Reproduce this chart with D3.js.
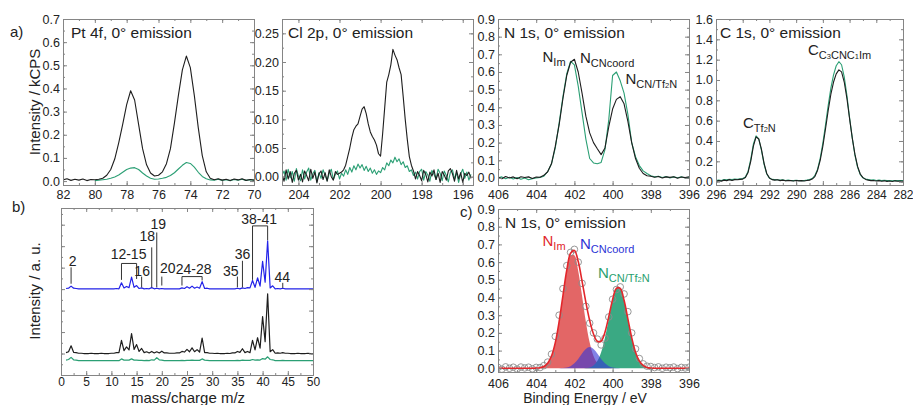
<!DOCTYPE html>
<html>
<head>
<meta charset="utf-8">
<script src="https://cdn.jsdelivr.net/npm/d3@7"></script>
<style>
body { margin: 0; background: #fff; }
svg { display: block; }
svg text { font-family: "Liberation Sans", Arial, sans-serif; }
</style>
</head>
<body>
<svg width="913" height="405"></svg>
<script>
"use strict";

// ---- a) Pt 4f (82 -> 70 eV, 0.25 eV steps) ----
const ptBlackStart = 82, ptGreenStart = 80, ptStep = 0.25;
const ptBlack = [0.005,0.010,0.003,0.008,0.004,0.009,0.002,0.007,0.006,
  0.008,0.012,0.025,0.050,0.095,0.165,0.245,0.330,
  0.390,0.350,0.245,0.140,0.070,0.035,0.022,0.025,
  0.040,0.075,0.140,0.250,0.370,0.480,0.540,0.490,
  0.370,0.230,0.110,0.040,0.012,0.006,0.010,0.004,
  0.008,0.002,0.009,0.005,0.010,0.003,0.007,0.004];
const ptGreen = [0.002,0.004,0.006,0.008,0.012,0.018,0.026,0.038,0.050,
  0.056,0.058,0.050,0.035,0.022,0.012,0.008,0.009,
  0.012,0.016,0.024,0.036,0.052,0.068,0.080,0.076,
  0.060,0.038,0.020,0.010,0.005,0.004,0.008,0.003,
  0.006,0.002,0.007,0.004,0.008,0.003,0.006,0.004];

// ---- a) Cl 2p (204.8 -> 195.6 eV, 0.1 eV steps) ----
const clStart = 204.8, clStep = 0.1;
const clBlack = [0.005,-0.008,0.012,-0.004,0.009,-0.010,0.006,0.011,-0.006,0.004,
  -0.009,0.010,0.002,-0.007,0.013,-0.003,0.008,-0.011,0.005,0.010,
  -0.005,0.007,-0.008,0.012,0.000,-0.006,0.009,0.004,0.006,
  0.008,0.012,0.020,0.035,0.050,0.068,0.082,0.088,0.092,0.105,
  0.118,0.122,0.110,0.092,0.078,0.070,0.064,0.055,0.040,0.036,
  0.075,0.120,0.165,0.178,0.195,0.222,0.212,0.204,0.190,0.178,
  0.140,0.100,0.065,0.035,0.020,0.010,-0.004,0.009,0.002,-0.007,
  0.011,0.004,-0.009,0.008,0.001,0.012,-0.005,0.006,-0.010,0.009,
  0.003,-0.006,0.010,0.014,0.005,-0.008,0.011,-0.004,0.007,-0.010,
  0.006,0.002,0.008,-0.003];
const clGreen = [0.002,0.010,-0.006,0.013,-0.002,0.009,-0.008,0.014,0.001,-0.007,
  0.012,-0.004,0.008,0.015,-0.006,0.005,0.011,-0.009,0.007,-0.003,
  0.012,0.002,-0.007,0.006,0.013,-0.005,0.004,0.010,-0.004,
  0.006,0.001,0.012,0.004,0.016,0.008,0.019,0.012,0.022,0.015,
  0.021,0.011,0.018,0.009,0.015,0.006,0.012,0.004,0.010,0.007,
  0.016,0.012,0.024,0.019,0.029,0.024,0.034,0.026,0.031,0.021,
  0.026,0.016,0.019,0.009,0.012,0.002,0.008,-0.004,0.009,0.013,
  -0.006,0.009,0.003,-0.008,0.011,0.004,-0.005,0.013,0.006,-0.007,
  0.010,0.002,-0.009,0.008,0.012,-0.004,0.007,-0.010,0.005,0.013,
  -0.003,0.008,-0.006,0.004];

// ---- a) / c) N 1s (406 -> 396 eV, 0.2 eV steps) ----
const nStart = 406, nStep = 0.2;
const nBlack = [0.005,-0.005,0.008,0.000,0.006,-0.004,0.007,0.002,0.006,-0.003,0.005,0.004,
  0.015,0.035,0.080,0.180,0.300,0.450,0.580,0.655,0.672,0.600,
  0.480,0.350,0.255,0.200,0.165,0.132,0.170,0.290,0.390,0.445,
  0.460,0.420,0.320,0.200,0.110,0.055,0.025,0.012,0.010,
  0.004,0.008,0.000,0.006,0.003,0.007,-0.002,0.005,0.002,0.006];
const nGreen = [0.000,0.006,-0.004,0.004,-0.006,0.002,-0.008,0.000,-0.010,-0.004,0.000,0.003,
  0.010,0.035,0.080,0.170,0.310,0.460,0.590,0.660,0.640,0.520,
  0.370,0.220,0.110,0.085,0.080,0.088,0.160,0.330,0.580,0.600,
  0.550,0.480,0.360,0.200,0.120,0.070,0.040,0.025,0.012,
  0.006,0.010,0.002,0.008,0.000,0.006,0.001,0.007,0.000,0.004];
// c) fit components on the same grid
const fitIm = [0,0,0,0,0,0,0,0,0,0,
  0.001,0.003,0.010,0.029,0.069,0.145,0.263,0.410,0.550,0.638,
  0.638,0.550,0.410,0.263,0.145,0.069,0.029,0.010,0.003,0.001,
  0,0,0,0,0,0,0,0,0,0,0,0,0,0,0,0,0,0,0,0,0];
const fitCoord = [0,0,0,0,0,0,0,0,0,0,0,0,0,0,0,0,0,
  0.001,0.004,0.012,0.028,0.053,0.083,0.109,0.120,0.109,0.083,0.053,0.028,0.012,0.004,0.001,
  0,0,0,0,0,0,0,0,0,0,0,0,0,0,0,0,0,0,0];
const fitCN = [0,0,0,0,0,0,0,0,0,0,0,0,0,0,0,0,0,0,0,0,0,0,0,
  0.001,0.005,0.016,0.041,0.091,0.173,0.279,0.384,0.451,0.451,0.384,0.279,0.173,0.091,0.041,0.016,0.005,0.001,
  0,0,0,0,0,0,0,0,0,0];

// ---- a) C 1s (296 -> 282 eV, 0.2 eV steps) ----
const cStart = 296, cStep = 0.2;
const cBlack = [0.000,0.010,0.005,0.015,0.010,0.020,0.012,0.020,0.018,0.022,0.025,
  0.040,0.090,0.200,0.350,0.440,0.420,0.320,0.180,0.080,0.035,
  0.020,0.015,0.018,0.010,0.015,0.008,0.012,0.010,0.006,0.012,
  0.008,0.010,0.006,0.012,0.015,0.025,0.050,0.110,0.210,0.350,
  0.520,0.700,0.860,0.980,1.060,1.100,1.080,0.980,0.820,0.620,
  0.430,0.270,0.150,0.075,0.040,0.022,0.015,0.010,0.012,0.006,
  0.010,0.004,0.008,0.003,0.007,0.002,0.008,0.004,0.006,0.003];
const cGreen = [0.010,0.015,0.012,0.020,0.018,0.022,0.020,0.025,0.022,0.028,0.030,
  0.045,0.100,0.220,0.370,0.450,0.420,0.310,0.170,0.075,0.035,
  0.022,0.020,0.018,0.015,0.018,0.012,0.015,0.012,0.010,0.014,
  0.012,0.010,0.012,0.015,0.020,0.030,0.060,0.120,0.230,0.380,
  0.560,0.750,0.920,1.050,1.140,1.180,1.150,1.030,0.850,0.630,
  0.430,0.260,0.140,0.070,0.038,0.025,0.020,0.015,0.018,0.012,
  0.015,0.010,0.014,0.010,0.012,0.008,0.012,0.010,0.012,0.010];

// ---- b) mass spectra: heights at m/z 1..50 and valleys at 1.5..49.5 ----
const mzStart = 1;
const blueMS = [0.1,0.9,0.1,0,0,0,0,0,0,0, 0.1,2.0,0.8,3.9,1.1,0.3,0.1,0.4,0.2,0.1,
  0,0,0,0.3,0.7,0.9,0.6,2.4,0.2,0, 0,0,0,0,0.2,0.3,0.4,2.8,3.7,9.2, 16.1,1.0,0.1,0.2,0,0,0,0,0,0];
const blueVal = [0.2,0.2,0,0,0,0,0,0,0,0, 0,0.3,0.4,0.5,0.1,0,0,0,0,0,
  0,0,0,0.1,0.2,0.2,0.2,0.1,0,0, 0,0,0,0,0,0.1,0.3,0.5,0.9,2.2, 0.3,0,0,0,0,0,0,0,0];
const blackMS = [0.3,2.6,0.3,0.1,0,0.1,0,0.1,0,0.1, 0.3,4.4,2.2,6.7,3.0,1.7,0.6,0.7,0.6,0.8,
  0.2,0.1,0.2,0.7,1.4,1.9,1.3,5.2,0.3,0.1, 0.1,0,0.1,0.2,0.7,1.6,0.7,4.4,5.3,12.4, 20.0,1.3,0.2,0.3,0.1,0,0.1,0,0.1,0];
const blackVal = [0.6,0.4,0.1,0,0,0,0,0,0,0.1, 0.3,1.0,1.2,1.4,0.7,0.3,0.2,0.2,0.2,0.2,
  0.1,0.1,0.2,0.5,0.6,0.6,0.5,0.3,0.1,0, 0,0,0,0.2,0.4,0.3,0.3,1.2,1.8,4.0, 0.6,0.1,0.1,0.1,0,0,0,0,0];
const greenMS = [0.2,1.1,0.2,0,0,0,0,0,0,0, 0,0.6,0.2,0.6,0.2,0.1,0.1,0.3,1.0,0.2,
  0,0,0,0.1,0.1,0.2,0.1,0.6,0.1,0, 0,0,0,0,0.1,0.2,0.1,0.4,0.3,0.7, 1.3,0.3,0,0.1,0,0,0,0,0,0];
const greenVal = [0.4,0.3,0,0,0,0,0,0,0,0, 0,0.2,0.2,0.2,0.1,0,0,0.2,0.3,0,
  0,0,0,0,0.1,0.1,0.1,0.2,0,0, 0,0,0,0,0,0.1,0.1,0.2,0.2,0.5, 0.4,0,0,0,0,0,0,0,0];
const msOffsets = {blue: 28.9, black: 7.2, green: 4.8};

// fragment annotations in b): [label, text m/z, text y, line m/z, line top, line bottom]
const msSingle = [
  ["2", 2.3, 36.7, 2, 36.1, 30.6],
  ["16", 16.1, 33.3, 16, 33.0, 29.4],
  ["18", 17.1, 44.8, 18, 42.8, 29.4],
  ["19", 19.3, 49.0, 19, 47.8, 29.4],
  ["20", 21.2, 34.1, 20, 33.0, 30.0],
  ["35", 33.7, 33.3, 35, 33.0, 29.4],
  ["36", 36.0, 38.9, 36, 38.3, 29.4],
  ["44", 43.9, 31.1, 44, 30.9, 29.2]
];
// brackets: [label, text m/z, text y, from m/z, to m/z, bar y, left leg end, right leg end]
const msBrackets = [
  ["12-15", 13.4, 39.0, 12, 15, 37.4, 31.9, 32.2],
  ["24-28", 26.3, 33.9, 24, 28, 33.0, 30.0, 31.7],
  ["38-41", 39.3, 50.6, 38, 41, 50.0, 31.9, 45.2]
];

const svg = d3.select("svg");
const frameCol = "#858585", inkCol = "#222";
const blackCol = "#1e1e1e", greenCol = "#2b9f74", blueCol = "#2323e8";

function grid(start, step, vals) {
  return vals.map((v, i) => [start - step * i, v]);
}

function makePanel(id, x0, x1, y0, y1, xDom, yDom) {
  const x = d3.scaleLinear().domain(xDom).range([x0, x1]);
  const y = d3.scaleLinear().domain(yDom).range([y1, y0]);
  const g = svg.append("g");
  svg.append("clipPath").attr("id", id).append("rect")
    .attr("x", x0).attr("y", y0).attr("width", x1 - x0).attr("height", y1 - y0);
  const plot = g.append("g").attr("clip-path", "url(#" + id + ")");
  return {x, y, g, plot, x0, x1, y0, y1};
}

function addAxis(p, gen, tx, ty, scale, vals, size, fmt, pad, fs) {
  const a = p.g.append("g")
    .attr("transform", "translate(" + tx + "," + ty + ")")
    .call(gen(scale).tickValues(vals).tickSizeInner(size).tickSizeOuter(0)
      .tickPadding(pad || 3).tickFormat(fmt || (() => "")));
  a.attr("font-size", null).attr("font-family", null);
  a.select(".domain").remove();
  a.selectAll(".tick line").attr("stroke", frameCol);
  a.selectAll(".tick text").attr("fill", inkCol).style("font-size", (fs || 12.5) + "px");
}

function drawAxes(p, o) {
  addAxis(p, d3.axisBottom, 0, p.y1, p.x, o.xMinor, -2);
  addAxis(p, d3.axisTop, 0, p.y0, p.x, o.xMinor, -2);
  addAxis(p, d3.axisBottom, 0, p.y1, p.x, o.xMajor, -4, o.xFmt, o.xPad, o.xFs);
  addAxis(p, d3.axisTop, 0, p.y0, p.x, o.xMajor, -4);
  addAxis(p, d3.axisLeft, p.x0, 0, p.y, o.yMinor, -2);
  addAxis(p, d3.axisRight, p.x1, 0, p.y, o.yMinor, -2);
  addAxis(p, d3.axisLeft, p.x0, 0, p.y, o.yMajor, -4, o.yFmt, 3);
  addAxis(p, d3.axisRight, p.x1, 0, p.y, o.yMajor, -4);
  p.g.append("rect")
    .attr("x", p.x0 + 0.5).attr("y", p.y0 + 0.5)
    .attr("width", p.x1 - p.x0).attr("height", p.y1 - p.y0)
    .attr("fill", "none").attr("stroke", frameCol);
}

function trace(p, pts, color, width) {
  p.plot.append("path")
    .attr("d", d3.line().x(d => p.x(d[0])).y(d => p.y(d[1]))(pts))
    .attr("fill", "none").attr("stroke", color)
    .attr("stroke-width", width || 1.1).attr("stroke-linejoin", "round");
}

function text(x, y, s, size, color, anchor) {
  return svg.append("text").attr("x", x).attr("y", y)
    .attr("fill", color || inkCol).attr("text-anchor", anchor || "start")
    .style("font-size", (size || 15.5) + "px").text(s);
}

// parts: [string, font size, baseline offset]
function chemLabel(x, y, parts, color) {
  const t = svg.append("text").attr("x", x).attr("y", y)
    .attr("fill", color || inkCol).style("font-size", "15px");
  let prev = 0;
  parts.forEach(pt => {
    t.append("tspan").attr("dy", pt[2] - prev).style("font-size", pt[1] + "px").text(pt[0]);
    prev = pt[2];
  });
}

const f1 = d3.format(".1f"), f2 = d3.format(".2f");
const tenths = n => d3.range(0, n + 1).map(i => i / 10);

// ---------- a1 Pt 4f ----------
const a1 = makePanel("c-a1", 63, 254, 19, 185, [82, 70], [-0.017, 0.7]);
trace(a1, grid(ptGreenStart, ptStep, ptGreen), greenCol);
trace(a1, grid(ptBlackStart, ptStep, ptBlack), blackCol);
drawAxes(a1, {xMajor: d3.range(70, 83, 2), xMinor: d3.range(70, 83, 1), xFmt: d3.format("d"), xPad: 5,
  yMajor: tenths(7), yMinor: d3.range(0, 15).map(i => i * 0.05), yFmt: f1});

// ---------- a2 Cl 2p ----------
const a2 = makePanel("c-a2", 282, 473, 19, 185, [204.8, 195.5], [-0.0145, 0.275]);
trace(a2, grid(clStart, clStep, clGreen), greenCol);
trace(a2, grid(clStart, clStep, clBlack), blackCol);
drawAxes(a2, {xMajor: d3.range(196, 205, 2), xMinor: d3.range(196, 205, 1), xFmt: d3.format("d"), xPad: 5,
  yMajor: d3.range(0, 6).map(i => i * 0.05), yMinor: d3.range(0, 11).map(i => i * 0.025), yFmt: f2});

// ---------- a3 N 1s ----------
const a3 = makePanel("c-a3", 498, 689, 19, 185, [406, 396], [-0.04, 0.9]);
trace(a3, grid(nStart, nStep, nGreen), greenCol);
trace(a3, grid(nStart, nStep, nBlack), blackCol);
drawAxes(a3, {xMajor: d3.range(396, 407, 2), xMinor: d3.range(396, 407, 1), xFmt: d3.format("d"), xPad: 5,
  yMajor: tenths(9), yMinor: d3.range(0, 19).map(i => i * 0.05), yFmt: f1});

// ---------- a4 C 1s ----------
const a4 = makePanel("c-a4", 716, 903, 19, 185, [296, 282], [-0.033, 1.6]);
trace(a4, grid(cStart, cStep, cGreen), greenCol);
trace(a4, grid(cStart, cStep, cBlack), blackCol);
drawAxes(a4, {xMajor: d3.range(282, 297, 2), xMinor: d3.range(282, 297, 1), xFmt: d3.format("d"), xPad: 5, xFs: 12,
  yMajor: d3.range(0, 9).map(i => i * 0.2), yMinor: d3.range(0, 17).map(i => i * 0.1), yFmt: f1});

// ---------- b) mass spectra ----------
const b = makePanel("c-b", 61, 313, 208, 375, [0, 50], [0, 56]);
function msTrace(peaks, valleys, off) {
  const pts = [];
  peaks.forEach((h, k) => {
    pts.push([mzStart + k, off + h]);
    if (k < valleys.length) pts.push([mzStart + k + 0.5, off + valleys[k]]);
  });
  return pts;
}
trace(b, msTrace(greenMS, greenVal, msOffsets.green), greenCol, 1.2);
trace(b, msTrace(blackMS, blackVal, msOffsets.black), blackCol, 1.2);
trace(b, msTrace(blueMS, blueVal, msOffsets.blue), blueCol, 1.2);
drawAxes(b, {xMajor: d3.range(0, 51, 5), xMinor: d3.range(0, 51, 2.5), xFmt: d3.format("d"), xPad: 2, xFs: 12,
  yMajor: d3.range(0, 56, 7.2), yMinor: d3.range(0, 56, 3.6), yFmt: null});
const ann = svg.append("g").attr("stroke", "#333").attr("stroke-width", 1).attr("fill", "none");
msSingle.forEach(d => {
  ann.append("line").attr("x1", b.x(d[3])).attr("x2", b.x(d[3]))
    .attr("y1", b.y(d[4])).attr("y2", b.y(d[5]));
  text(b.x(d[1]), b.y(d[2]), d[0], 14, inkCol, "middle");
});
msBrackets.forEach(d => {
  ann.append("path").attr("d",
    "M" + b.x(d[3]) + "," + b.y(d[6]) + "V" + b.y(d[5]) +
    "H" + b.x(d[4]) + "V" + b.y(d[7]));
  text(b.x(d[1]), b.y(d[2]), d[0], 14, inkCol, "middle");
});

// ---------- c) N 1s fit ----------
const c = makePanel("c-c", 498, 689, 209, 372, [406, 396], [-0.021, 0.9]);
const comps = [[fitIm, "#e36666", 1], [fitCN, "#3aa983", 1], [fitCoord, "#3636d6", 0.62]];
const area = d3.area().curve(d3.curveCatmullRom)
  .x(d => c.x(d[0])).y0(c.y(0)).y1(d => c.y(d[1]));
comps.forEach(cp => {
  c.plot.append("path").attr("d", area(grid(nStart, nStep, cp[0])))
    .attr("fill", cp[1]).attr("fill-opacity", cp[2]);
});
c.plot.selectAll("circle").data(grid(nStart, nStep, nBlack)).join("circle")
  .attr("cx", d => c.x(d[0])).attr("cy", d => c.y(d[1])).attr("r", 3.3)
  .attr("fill", "none").attr("stroke", "#8c8c8c").attr("stroke-width", 0.9);
const envelope = fitIm.map((v, i) => v + fitCoord[i] + fitCN[i]);
c.plot.append("path")
  .attr("d", d3.line().curve(d3.curveCatmullRom).x(d => c.x(d[0])).y(d => c.y(d[1]))(grid(nStart, nStep, envelope)))
  .attr("fill", "none").attr("stroke", "#e3262b").attr("stroke-width", 1.6);
drawAxes(c, {xMajor: d3.range(396, 407, 2), xMinor: d3.range(396, 407, 1), xFmt: d3.format("d"), xPad: 7,
  yMajor: tenths(9), yMinor: d3.range(0, 19).map(i => i * 0.05), yFmt: f1});

// ---------- text ----------
text(10, 37, "a)", 15);
text(12, 212, "b)", 15);
text(460, 217, "c)", 15);
text(71, 38, "Pt 4f, 0° emission");
text(288, 38, "Cl 2p, 0° emission");
text(504, 38, "N 1s, 0° emission");
text(720, 38, "C 1s, 0° emission");
text(505, 228, "N 1s, 0° emission");

svg.append("text").attr("transform", "translate(40,102) rotate(-90)")
  .attr("text-anchor", "middle").attr("fill", inkCol).style("font-size", "15px").text("Intensity / kCPS");
svg.append("text").attr("transform", "translate(40,291) rotate(-90)")
  .attr("text-anchor", "middle").attr("fill", inkCol).style("font-size", "15px").text("Intensity / a. u.");
text(188, 402.5, "mass/charge m/z", 15, inkCol, "middle");
text(585, 403, "Binding Energy / eV", 14, inkCol, "middle");

chemLabel(542.5, 62, [["N", 15, 0], ["Im", 11, 4]]);
chemLabel(580, 63, [["N", 15, 0], ["CNcoord", 11, 4]]);
chemLabel(625.5, 84, [["N", 15, 0], ["CN/Tf", 11, 4], ["2", 7.5, 4], ["N", 11, 4]]);
chemLabel(743, 128, [["C", 15, 0], ["Tf", 11, 4], ["2", 7.5, 4], ["N", 11, 4]]);
chemLabel(808, 55, [["C", 15, 0], ["C", 11, 4], ["3", 7.5, 4], ["CNC", 11, 4], ["1", 7.5, 4], ["Im", 11, 4]]);

chemLabel(542.5, 246, [["N", 15, 0], ["Im", 11, 4]], "#e0262b");
chemLabel(580, 249, [["N", 15, 0], ["CNcoord", 11, 4]], "#2b33d6");
chemLabel(598, 277.5, [["N", 15, 0], ["CN/Tf", 11, 4], ["2", 7.5, 4], ["N", 11, 4]], "#27a06e");
</script>
</body>
</html>
